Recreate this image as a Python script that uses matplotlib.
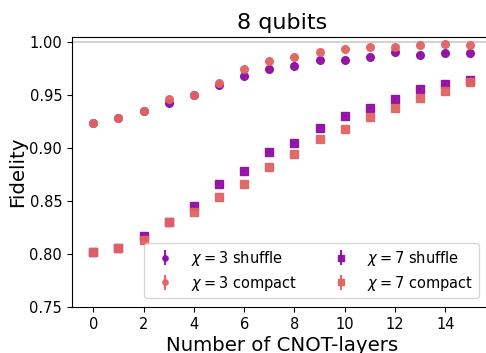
import matplotlib
matplotlib.use("Agg")
import matplotlib.pyplot as plt
import numpy as np

layers = list(range(16))
chi3_shuffle = [0.9233, 0.928, 0.9349, 0.9428, 0.950, 0.9594, 0.968, 0.9748,
                0.977, 0.9827, 0.9827, 0.9855, 0.9906, 0.9877, 0.9896, 0.9896]
chi3_compact = [0.9233, 0.928, 0.9349, 0.9462, 0.950, 0.961, 0.9745, 0.9818,
                0.9855, 0.9906, 0.9934, 0.995, 0.9956, 0.9975, 0.9978, 0.997]
chi7_shuffle = [0.8022, 0.8057, 0.817, 0.830, 0.8456, 0.866, 0.8786, 0.8965,
                0.9047, 0.9189, 0.9302, 0.938, 0.9462, 0.9553, 0.960, 0.9642]
chi7_compact = [0.8022, 0.8057, 0.813, 0.830, 0.840, 0.8538, 0.8657, 0.8818,
                0.8943, 0.9085, 0.9176, 0.929, 0.9374, 0.9475, 0.9535, 0.9623]
err = 0.001

purple = plt.cm.plasma(0.3)
red = plt.cm.plasma(0.6)

fig = plt.figure(figsize=(4.86, 3.53), dpi=100)
ax = fig.add_axes([0.148, 0.130, 0.864, 0.765])

ax.axhline(1.0, color='lightgray', lw=1.5, zorder=0)
ax.errorbar(layers, chi3_shuffle, yerr=err, fmt='o', color=purple, ms=5.5, alpha=0.95,
            label=r'$\chi = 3$ shuffle')
ax.errorbar(layers, chi3_compact, yerr=err, fmt='o', color=red, ms=5.5, alpha=0.95,
            label=r'$\chi = 3$ compact')
ax.errorbar(layers, chi7_shuffle, yerr=err, fmt='s', color=purple, ms=5.5, alpha=0.95,
            label=r'$\chi = 7$ shuffle')
ax.errorbar(layers, chi7_compact, yerr=err, fmt='s', color=red, ms=5.5, alpha=0.95,
            label=r'$\chi = 7$ compact')

ax.set_xlim(-0.85, 15.85)
ax.set_ylim(0.75, 1.0047)
ax.set_xticks([0, 2, 4, 6, 8, 10, 12, 14])
ax.set_yticks([0.75, 0.80, 0.85, 0.90, 0.95, 1.00])
ax.tick_params(labelsize=10.5)
ax.set_title('8 qubits', fontsize=16)
ax.set_xlabel('Number of CNOT-layers', fontsize=14.2, labelpad=3)
ax.set_ylabel('Fidelity', fontsize=14.2, labelpad=2)
ax.legend(loc='lower right', ncol=2, fontsize=10.5, markerscale=0.7,
          labelspacing=0.4, borderaxespad=0.6, bbox_to_anchor=(0.99, 0.0))

fig.savefig('out.png', dpi=100)
